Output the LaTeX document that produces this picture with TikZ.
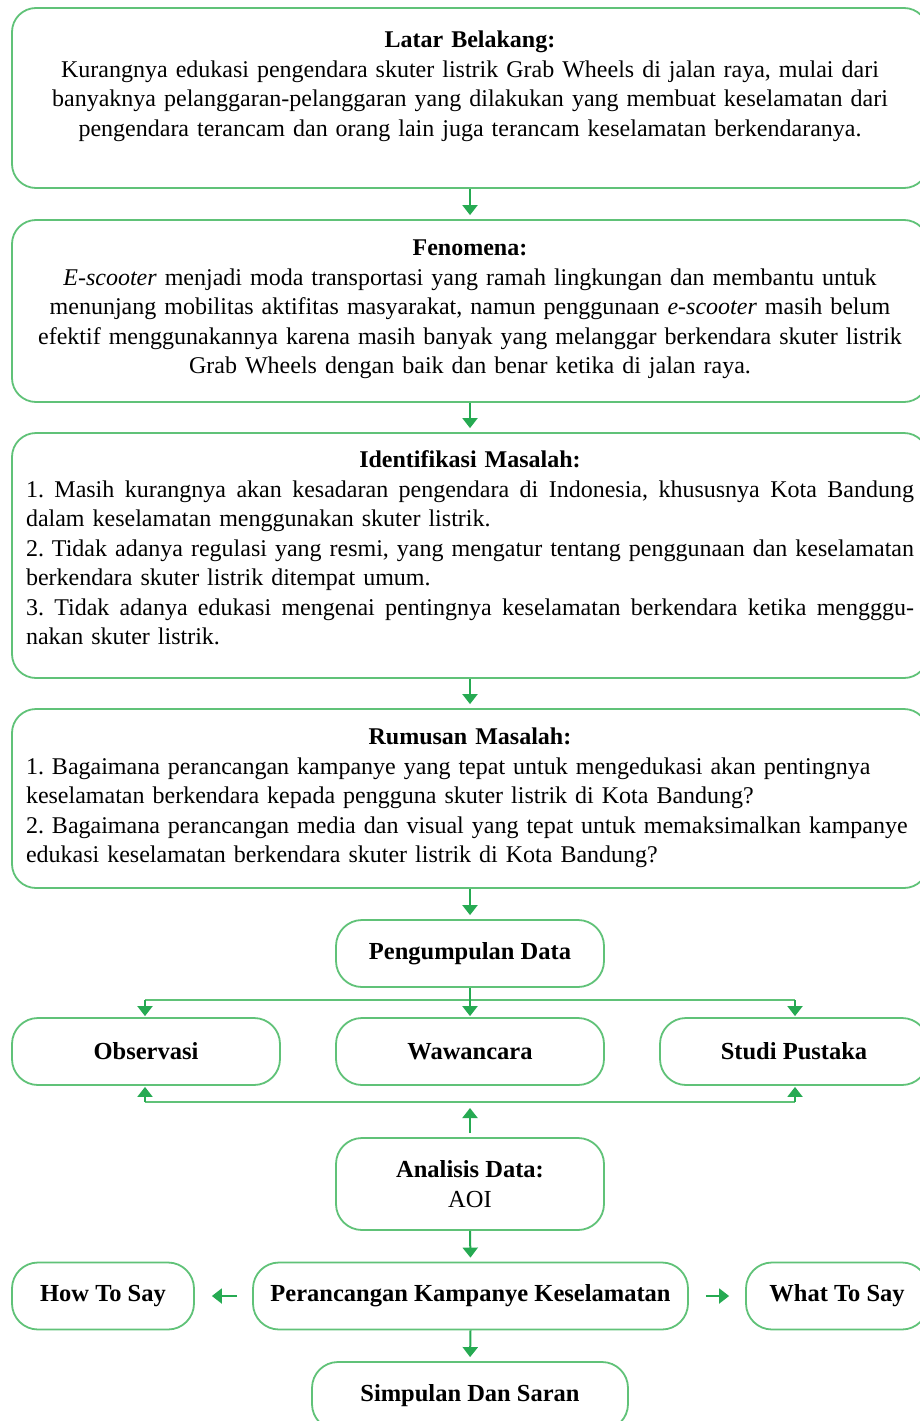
\documentclass[tikz,border=0pt]{standalone}
\usepackage{fontspec}
\setmainfont{Liberation Serif}
\usetikzlibrary{arrows.meta}
\definecolor{boxgreen}{RGB}{96,194,120}
\definecolor{arrgreen}{RGB}{38,170,82}
\newcommand{\jline}[1]{\leavevmode{\spaceskip=0.25em plus 0.5em minus 0.12em\hbox to 888pt{#1}}}
\newcommand{\lline}[1]{\leavevmode\hbox to 888pt{#1\hfil}}
\tikzset{
  bigbox/.style={draw=boxgreen, line width=1.8pt, rounded corners=24pt, inner sep=0pt, minimum width=916pt},
  smallbox/.style={draw=boxgreen, line width=1.8pt, rounded corners=26pt, inner sep=0pt, minimum height=67pt, font=\fontsize{24.5}{29.5}\selectfont\bfseries},
  txt/.style={inner sep=0pt, anchor=north},
  arr/.style={draw=arrgreen, line width=2pt, -{Triangle[width=15pt,length=10pt]}},
  ln/.style={draw=boxgreen, line width=2pt}
}
\begin{document}
\begin{tikzpicture}[x=1pt,y=-1pt]
\fontsize{24}{29.5}\selectfont\frenchspacing
\useasboundingbox (0,0) rectangle (919,1421);
\fill[white] (0,0) rectangle (919,1421);

% big boxes
\node[bigbox, minimum height=180pt] (b1) at (470,98) {};
\node[bigbox, minimum height=182pt] (b2) at (470,311) {};
\node[bigbox, minimum height=245pt] (b3) at (470,555.5) {};
\node[bigbox, minimum height=179pt] (b4) at (470,798.5) {};

\node[txt, text width=888pt, align=center] (t1) at (470,30.7) {\textbf{Latar Belakang:}\\
Kurangnya edukasi pengendara skuter listrik Grab Wheels di jalan raya, mulai dari\\
banyaknya pelanggaran-pelanggaran yang dilakukan yang membuat keselamatan dari\\
pengendara terancam dan orang lain juga terancam keselamatan berkendaranya.};

\node[txt, text width=888pt, align=center] (t2) at (470,239.7) {\textbf{Fenomena:}\\
\textit{E-scooter} menjadi moda transportasi yang ramah lingkungan dan membantu untuk\\
menunjang mobilitas aktifitas masyarakat, namun penggunaan \textit{e-scooter} masih belum\\
efektif menggunakannya karena masih banyak yang melanggar berkendara skuter listrik\\
Grab Wheels dengan baik dan benar ketika di jalan raya.};

\node[txt, text width=888pt, align=center] (t3) at (470,450.7) {\textbf{Identifikasi Masalah:}\\
\jline{1. Masih kurangnya akan kesadaran pengendara di Indonesia, khususnya Kota Bandung}\\
\lline{dalam keselamatan menggunakan skuter listrik.}\\
\jline{2. Tidak adanya regulasi yang resmi, yang mengatur tentang penggunaan dan keselamatan}\\
\lline{berkendara skuter listrik ditempat umum.}\\
\jline{3. Tidak adanya edukasi mengenai pentingnya keselamatan berkendara ketika mengggu-}\\
\lline{nakan skuter listrik.}};

\node[txt, text width=888pt, align=center] (t4) at (470,727.7) {\textbf{Rumusan Masalah:}\\
\lline{1. Bagaimana perancangan kampanye yang tepat untuk mengedukasi akan pentingnya}\\
\lline{keselamatan berkendara kepada pengguna skuter listrik di Kota Bandung?}\\
\lline{2. Bagaimana perancangan media dan visual yang tepat untuk memaksimalkan kampanye}\\
\lline{edukasi keselamatan berkendara skuter listrik di Kota Bandung?}};

% small boxes
\node[smallbox, minimum width=268pt] (pd) at (470,953.5) {Pengumpulan Data};
\node[smallbox, minimum width=268pt] (obs) at (146,1051.5) {Observasi};
\node[smallbox, minimum width=268pt] (waw) at (470,1051.5) {Wawancara};
\node[smallbox, minimum width=268pt] (stu) at (794,1051.5) {Studi Pustaka};
\node[smallbox, minimum width=268pt, minimum height=92pt, align=center] (an) at (470,1184) {Analisis Data:\\\mdseries AOI};
\node[smallbox, minimum width=435pt] (pk) at (470.5,1296) {Perancangan Kampanye Keselamatan};
\node[smallbox, minimum width=182pt] (how) at (103,1296) {How To Say};
\node[smallbox, minimum width=182pt] (what) at (837,1296) {What To Say};
\node[smallbox, minimum width=316pt, minimum height=68pt] (sim) at (470,1396) {Simpulan Dan Saran};

% connectors between big boxes
\draw[arr, shorten >=4pt] (b1.south) -- (b2.north);
\draw[arr, shorten >=4pt] (b2.south) -- (b3.north);
\draw[arr, shorten >=4pt] (b3.south) -- (b4.north);
\draw[arr, shorten >=4pt] (b4.south) -- (pd.north);

% split to data collection
\coordinate (sl) at (145,1000);
\coordinate (sr) at (795,1000);
\draw[ln] (sl) -- (sr);
\draw[arr] (pd.south) -- ([yshift=1pt]waw.north);
\draw[arr] (sl) -- ([yshift=1pt]sl |- obs.north);
\draw[arr] (sr) -- ([yshift=1pt]sr |- stu.north);

% merge back
\coordinate (ml) at (145,1102);
\coordinate (mr) at (795,1102);
\draw[ln] (ml) -- (mr);
\draw[arr] (ml) -- ([yshift=-1pt]ml |- obs.south);
\draw[arr] (mr) -- ([yshift=-1pt]mr |- stu.south);
\draw[arr, shorten <=4pt, shorten >=6pt] (an.north) -- (an.north |- ml);

% analysis to design
\draw[arr, shorten >=4pt] (an.south) -- (pk.north);
\draw[arr, shorten <=15pt, shorten >=17pt] (pk.west) -- (how.east);
\draw[arr, shorten <=17pt, shorten >=16pt] (pk.east) -- (what.west);
\draw[arr, shorten >=4pt] (pk.south) -- (sim.north);
\end{tikzpicture}
\end{document}
